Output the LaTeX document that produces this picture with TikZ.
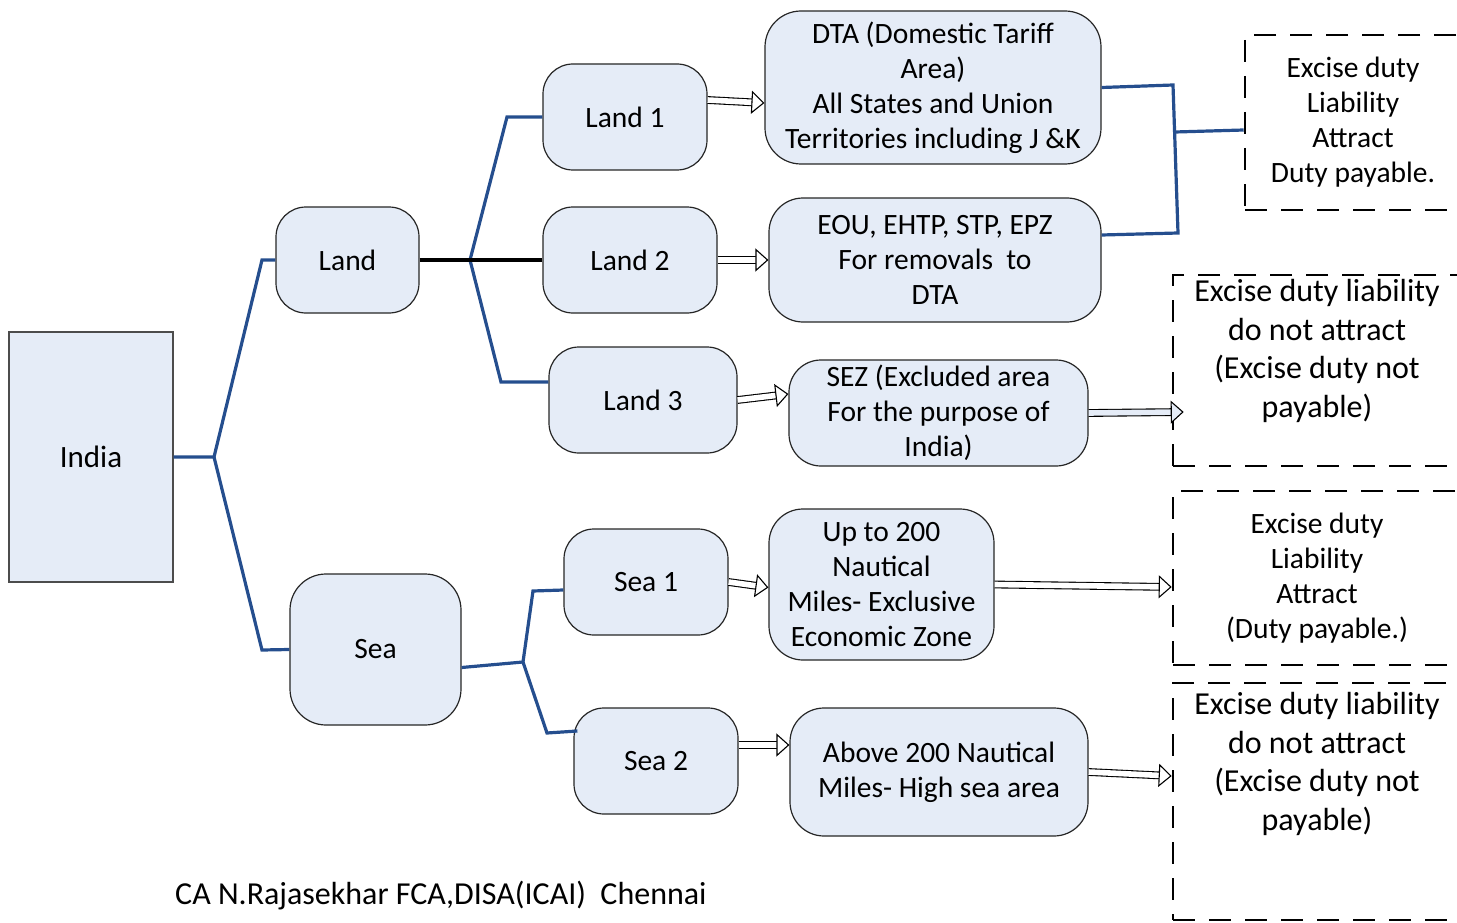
\documentclass[tikz,border=0pt]{standalone}
\usepackage{fontspec}
\setmainfont{Carlito}
\usetikzlibrary{arrows.meta,calc}
\definecolor{boxfill}{HTML}{E5ECF7}
\definecolor{conblue}{HTML}{254E8E}
\begin{document}
\begin{tikzpicture}[x=1pt,y=-1pt,
  base/.style={font=\fontsize{29.5}{35}\selectfont, align=center, inner sep=0pt},
  rbox/.style={base, draw=black!85, line width=1.2pt, fill=boxfill, rounded corners=#1},
  rbox/.default=30pt,
  sqbox/.style={base, draw=black!70, line width=1.2pt, fill=boxfill},
  dbox/.style={draw=black, line width=2.6pt, dash pattern=on 22pt off 14pt, inner sep=0pt},
  big/.style={font=\fontsize{32}{38.5}\selectfont, align=center},
  small/.style={font=\fontsize{29.5}{35}\selectfont, align=center},
  con/.style={draw=conblue, line width=3.2pt, line join=miter},
  blk/.style={draw=black, line width=1.1pt, double=#1, double distance=5.6pt,
    -{Triangle[length=13pt, width=23pt, fill=#1, line width=1.1pt]}},
  blk/.default=white
]
\useasboundingbox (0,0) rectangle (1457,923);
\clip (0,0) rectangle (1457,923);

% main boxes
\node[sqbox, minimum width=164pt, minimum height=250pt, font=\fontsize{31}{36}\selectfont] (india) at (91,457) {India};
\node[rbox, minimum width=143pt, minimum height=106pt] (land) at (347.5,260) {Land};
\node[rbox=36pt, minimum width=171pt, minimum height=151pt] (sea) at (375.5,649.5) {Sea};
\node[rbox, minimum width=164pt, minimum height=106pt] (land1) at (625,117) {Land 1};
\node[rbox, minimum width=174pt, minimum height=106pt] (land2) at (630,260) {Land 2};
\node[rbox, minimum width=188pt, minimum height=106pt] (land3) at (643,400) {Land 3};
\node[rbox, minimum width=164pt, minimum height=106pt] (sea1) at (646,582) {Sea 1};
\node[rbox, minimum width=164pt, minimum height=106pt] (sea2) at (656,761) {Sea 2};

\node[rbox=36pt, minimum width=336pt, minimum height=153pt] (dta) at (933,87.5)
  {DTA (Domestic Tariff\\Area)\\All States and Union\\Territories including J \&K};
\node[rbox=34pt, minimum width=332pt, minimum height=124pt] (eou) at (935,260)
  {EOU, EHTP, STP, EPZ\\For removals\ \ to\\DTA};
\node[rbox=32pt, minimum width=299pt, minimum height=106pt] (sez) at (938.5,413)
  {SEZ (Excluded area\\For the purpose of\\India)};
\node[rbox=34pt, minimum width=225pt, minimum height=151pt] (eez) at (881.5,584.5)
  {Up to 200\\Nautical\\Miles- Exclusive\\Economic Zone};
\node[rbox=34pt, minimum width=298pt, minimum height=128pt] (high) at (939,772)
  {Above 200 Nautical\\Miles- High sea area};

% dashed boxes
\node[dbox, minimum width=216pt, minimum height=175pt] (exA) at (1353,122.5) {};
\node[small] (txA) at (1353,122.5) {Excise duty\\Liability\\Attract\\Duty payable.};
\node[dbox, minimum width=288pt, minimum height=191pt] (exB) at (1317,370.5) {};
\node[big] (txB) at (1317,351) {Excise duty liability\\do not attract\\(Excise duty not\\payable)};
\node[dbox, minimum width=288pt, minimum height=174pt] (exC) at (1317,578) {};
\node[small] (txC) at (1317,578) {Excise duty\\Liability\\Attract\\(Duty payable.)};
\node[dbox, minimum width=288pt, minimum height=237pt] (exD) at (1317,801.5) {};
\node[big] (txD) at (1317,764) {Excise duty liability\\do not attract\\(Excise duty not\\payable)};

% caption
\node[base, anchor=west, font=\fontsize{32}{38}\selectfont] (cap) at (175,896) {CA N.Rajasekhar FCA,DISA(ICAI)\ \ Chennai};

% tree connectors
\coordinate (j0) at (214,457);
\draw[con] (india.east) -- (j0) -- (262,260) -- (land.west);
\draw[con] (j0) -- (262,650) -- (sea.west);
\coordinate (j1) at (470,260);
\draw[con] (j1) -- (507,117) -- (land1.west);
\draw[con] (j1) -- (501,382) -- ([yshift=18pt]land3.west);
\draw[draw=black, line width=3.2pt] (land.east) -- (land2.west);
\coordinate (j2) at (523,662);
\draw[con] ([yshift=-18pt]sea.east) -- (j2);
\draw[con] (j2) -- (533,591) -- ([yshift=-8pt]sea1.west);
\draw[con] (j2) -- (547,733) -- ([yshift=30pt, xshift=4pt]sea2.west);
\coordinate (j3) at (1175,132);
\draw[con] (dta.east) -- (1173,85) -- (1178,233) -- ([yshift=25pt]eou.east);
\draw[con] (j3) -- ([yshift=-7.5pt]exA.west);

% block arrows
\draw[blk] ([yshift=17pt]land1.east) -- ([yshift=-15.5pt]dta.west);
\draw[blk] (land2.east) -- (eou.west);
\draw[blk] (land3.east) -- ([yshift=19pt]sez.west);
\draw[blk=boxfill] (sez.east) -- ([xshift=12pt, yshift=-41.5pt]exB.west);
\draw[blk] (sea1.east) -- ([yshift=-3pt]eez.west);
\draw[blk] (eez.east) -- ([yshift=-9pt]exC.west);
\draw[blk] ([yshift=16pt]sea2.east) -- ([yshift=27pt]high.west);
\draw[blk] (high.east) -- ([yshift=25.5pt]exD.west);
\end{tikzpicture}
\end{document}
